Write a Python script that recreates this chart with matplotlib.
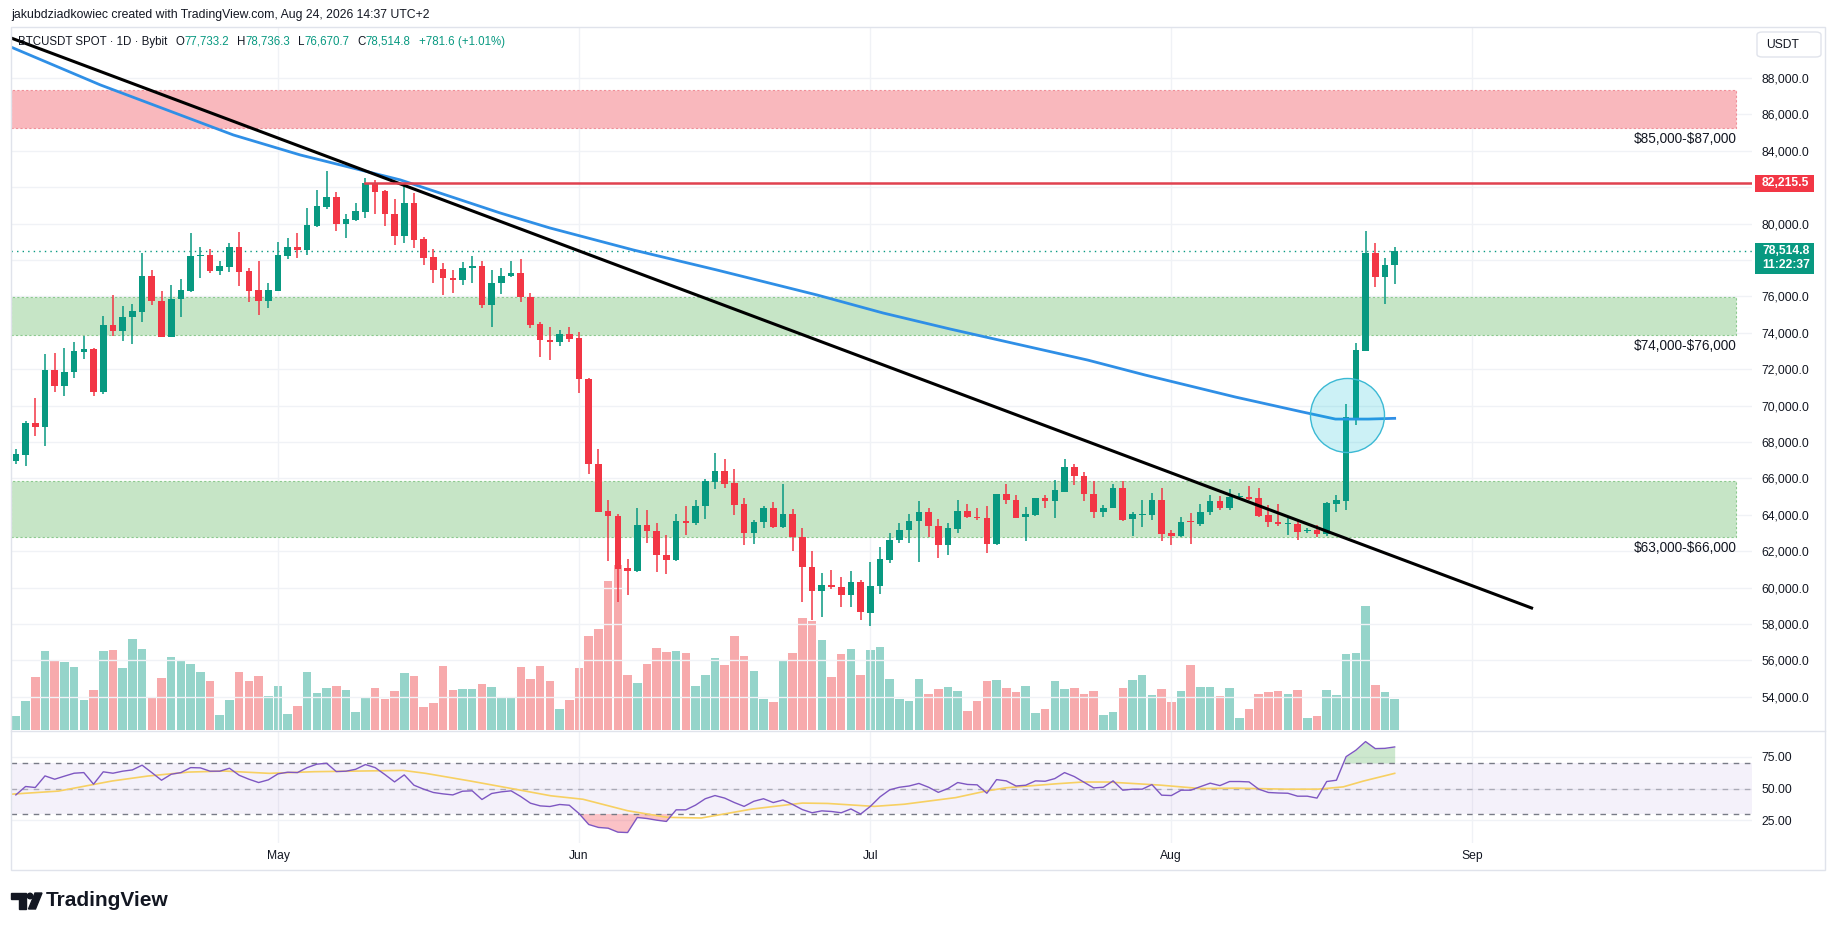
import matplotlib
matplotlib.use("Agg")
import matplotlib.pyplot as plt
import matplotlib.patches as mpatches
import numpy as np
import pandas as pd

plt.rcParams['font.family'] = ['Liberation Sans', 'DejaVu Sans']

W, H = 1835, 931

# ---------------- data ----------------
first_day = "2026-04-04"
ref_day = "2026-05-01"

opens = [66960, 67290, 69040, 68830, 71940, 71090, 71820, 72960, 73100, 70750, 74430, 74100, 74850, 75160,
         77130, 75730, 73790, 75850, 76300, 78200, 78270, 77390, 77640, 78710, 77390, 76360, 75770,
         76320, 78210, 78710, 78550, 79850, 80910, 81460, 80000, 80200, 80650, 82230, 81800, 80500, 79300,
         81110, 79160, 78150, 77520, 77010, 76890, 77560, 77680, 75520, 76760, 77110, 77310, 75950, 74490,
         73630, 73490, 73940,
         73710, 71460, 66810, 64220, 63960, 61090, 60890, 63430, 63130, 61810, 61500, 63680, 63570, 64480,
         65800, 66390, 65720, 64570, 62990, 63590, 64350, 63320, 64050, 62800, 61130, 59790, 60140, 60030,
         59570, 60300,
         58610, 60080, 61530, 62600, 63150, 63650, 64130, 63410, 62320, 63240, 64220, 63900, 63850, 62380,
         65120, 64820, 63870, 63980, 64900, 64750, 65280, 66610, 66150, 65170, 64130, 64350, 65450, 63760,
         64010, 63980, 64830,
         62980, 62830, 63650, 63520, 64150, 64740, 64350, 65000, 65000, 64940, 64000, 63630, 63500, 63520,
         63110, 63150, 62930, 64610, 64740, 69330, 73020, 78370, 77070, 77733.2]
highs = [67600, 69160, 70420, 72820, 72880, 73140, 73490, 73820, 73180, 74910, 76070, 75460, 75560, 78390,
         77450, 76300, 76620, 76950, 79470, 78690, 78610, 77940, 78960, 79550, 77540, 77960, 76740,
         78980, 79220, 79510, 80830, 81850, 82880, 81720, 80520, 81110, 82520, 82370, 81850, 81340, 82070,
         81660, 79260, 78610, 77840, 77470, 77880, 78230, 77940, 77430, 77560, 77960, 78080, 76170, 74590,
         74340, 74180, 74300,
         74040, 71510, 67600, 64820, 64070, 61590, 64350, 64290, 63570, 62910, 64030, 64460, 64840, 65950,
         67380, 67050, 66500, 64900, 63740, 64480, 64680, 65670, 64330, 63280, 62010, 60800, 60980, 60580,
         60890, 60400,
         61420, 62230, 63020, 63540, 64070, 64770, 64400, 63760, 63560, 64790, 64590, 64350, 64510, 65170,
         65670, 65080, 64440, 64950, 65080, 65890, 67050, 66810, 66370, 65870, 64530, 65670, 65840, 64160,
         64800, 65220, 65500,
         63180, 63870, 64110, 64610, 65090, 65040, 65440, 65220, 65560, 65480, 64560, 64570, 63930, 63650,
         63280, 63430, 64700, 65090, 70110, 73430, 79570, 78910, 78090, 78736.3]
lows = [66780, 66660, 68330, 67800, 70770, 70500, 71500, 72580, 70540, 70620, 73840, 73570, 73370, 74610,
        75500, 73750, 73750, 74890, 76230, 77010, 77310, 77170, 77350, 76560, 75710, 74970, 75360,
        76300, 78060, 78120, 78250, 79810, 80790, 79590, 79220, 80160, 80320, 80520, 79870, 78800, 78960,
        78650, 77700, 76760, 76070, 76210, 76600, 76760, 75360, 74340, 76130, 77070, 75710, 74260, 72660,
        72530, 73250, 73490,
        70680, 66250, 64130, 61440, 59200, 59570, 60850, 62470, 60840, 60760, 61450, 62910, 63460, 63760,
        65410, 65470, 63980, 62320, 62380, 63280, 63280, 63280, 61990, 59200, 58230, 58410, 59900, 58960,
        58960, 58240,
        57880, 59660, 61330, 62450, 62470, 61410, 62770, 61630, 61770, 63000, 63830, 63700, 61880, 62320,
        64590, 63810, 62580, 63960, 64350, 63850, 65250, 65630, 64750, 63810, 63870, 64350, 63680, 62820,
        63320, 63740, 62570,
        62350, 62800, 62410, 63410, 63980, 64260, 64260, 64850, 64810, 63870, 63330, 63410, 62910, 62590,
        63000, 62780, 62850, 64150, 64260, 68960, 73000, 76520, 75570, 76670.7]
closes = [67330, 69040, 68830, 71940, 71090, 71820, 73000, 73100, 70750, 74430, 74100, 74850, 75200, 77130,
          75730, 73790, 75850, 76360, 78230, 78260, 77390, 77680, 78710, 77350, 76320, 75770, 76360,
          78270, 78710, 78550, 79930, 80990, 81460, 80000, 80260, 80690, 82230, 81760, 80500, 79340, 81110,
          79120, 78100, 77470, 76990, 76890, 77560, 77680, 75520, 76760, 77130, 77310, 75950, 74430, 73630,
          73490, 73940, 73670,
          71460, 66780, 64160, 63920, 61040, 60890, 63430, 63100, 61770, 61500, 63680, 63570, 64510, 65850,
          66390, 65690, 64530, 62990, 63630, 64350, 63320, 64050, 62770, 61110, 59790, 60140, 60010, 59570,
          60300, 58650,
          60100, 61590, 62640, 63190, 63680, 64130, 63370, 62320, 63300, 64220, 63870, 63830, 62380, 65120,
          64790, 63850, 64020, 64900, 64750, 65340, 66610, 66150, 65140, 64130, 64380, 65450, 63720, 64030,
          64030, 64830, 62930,
          62830, 63630, 63610, 64180, 64740, 64350, 65000, 65040, 64870, 63960, 63590, 63480, 63520, 63060,
          63130, 62930, 64630, 64800, 69370, 73060, 78370, 77070, 77733.2, 78514.8]
volumes = [14, 29, 53, 79, 70, 68, 63, 30, 40, 79, 80, 62, 91, 81, 33, 52, 73, 70, 66, 58, 49, 15, 30, 58,
           49, 54, 34,
           44, 16, 24, 58, 37, 42, 44, 40, 18, 33, 42, 31, 39, 57, 54, 23, 27, 64, 40, 41, 41, 46, 43, 32,
           33, 63, 51, 64, 49, 21, 30,
           62, 94, 101, 149, 165, 55, 47, 66, 82, 78, 79, 77, 44, 55, 72, 65, 94, 74, 59, 31, 28, 69, 77,
           112, 109, 90, 53, 76, 81, 55,
           80, 83, 51, 31, 29, 51, 36, 41, 43, 39, 19, 29, 49, 50, 42, 38, 44, 17, 21, 49, 41, 42, 36, 39,
           15, 18, 42, 50, 55, 35, 41,
           28, 39, 65, 43, 43, 34, 42, 12, 21, 36, 38, 39, 36, 40, 12, 14, 40, 35, 76, 77, 124, 45, 38, 31]
rsi = [45.0, 51.6, 50.8, 59.9, 57.3, 59.7, 62.0, 62.5, 53.4, 63.1, 62.0, 63.6, 64.6, 68.3, 62.5, 56.5,
       61.2, 62.5, 66.4, 66.2, 63.6, 63.6, 65.9, 60.4, 57.3, 54.7, 56.8,
       61.5, 62.8, 62.5, 66.4, 69.1, 69.8, 63.3, 63.6, 65.1, 68.8, 66.4, 61.0, 55.2, 60.7, 52.6, 49.5,
       46.9, 45.8, 45.0, 47.9, 48.2, 41.4, 46.1, 47.4, 48.2, 43.7, 38.5, 36.4, 35.9, 37.5, 36.9,
       30.4, 21.8, 19.5, 18.9, 15.8, 15.5, 27.3, 26.5, 25.2, 24.2, 33.3, 33.3, 37.0, 42.0, 44.5, 42.5,
       39.0, 36.0, 40.0, 42.0, 39.0, 41.0, 37.5, 33.5, 31.0, 32.5, 32.0, 31.0, 34.0, 30.0,
       36.0, 43.5, 49.0, 51.0, 52.0, 54.0, 51.0, 47.0, 50.0, 54.7, 53.2, 52.9, 46.3, 57.0, 56.0, 52.0,
       52.6, 56.0, 55.7, 57.8, 62.5, 59.4, 55.0, 50.5, 51.0, 56.0, 48.7, 49.5, 49.5, 53.1, 44.8,
       44.5, 48.7, 48.7, 51.5, 54.2, 52.3, 55.5, 55.5, 55.2, 49.5, 46.9, 46.5, 46.3, 44.0, 44.0, 42.5,
       55.5, 56.5, 75.0, 80.0, 86.8, 81.3, 81.5, 82.6]

# indicator knots (day offset from May 1)
ma_day = [-27.5, -18.3, -4.6, 2.3, 12.6, 22.9, 28.0, 36.6, 45.2, 55.5, 62.3, 69.2, 83.4, 89.3, 98.6,
          105.5, 108.9, 112.3, 115.0]
ma_val = [89700, 87620, 84870, 83770, 82400, 80580, 79760, 78550, 77450, 76080, 75090, 74210, 72500,
          71680, 70470, 69650, 69260, 69260, 69300]
rsi_ma_day = [-27.6, -22.6, -17.1, -13.4, -9.2, -5.5, -0.9, 3.7, 8.3, 12.9, 15.2, 19.8, 24.4, 28.1, 31.4,
              36.0, 40.1, 43.6, 48.8, 54.0, 56.6, 61.4, 64.5, 69.8, 72.9, 75.0, 80.3, 82.9, 85.5, 90.8,
              95.0, 98.7, 103.9, 107.1, 109.7, 111.8, 115.0]
rsi_ma_val = [45.5, 48.0, 55.9, 59.8, 62.9, 63.7, 61.9, 63.2, 63.7, 64.2, 61.9, 55.9, 49.5, 44.3, 41.6,
              32.6, 27.4, 26.9, 33.9, 38.6, 38.3, 36.0, 37.7, 42.9, 48.0, 50.6, 53.8, 55.1, 55.1, 52.7,
              50.0, 50.3, 49.5, 49.5, 51.3, 55.9, 61.9]

trend_day = [-27.5, 129.1]
trend_val = [90200, 58880]
resist_day = 9
resist_val = 82215.5
last_val = 78514.8
circle_day, circle_val = 110.1, 69480

zone_end_day = 150.2
zones = [(85280, 87340, "$85,000-$87,000", "#f9b8bd", "#f08e98"),
         (73880, 75970, "$74,000-$76,000", "#c6e5c6", "#8cc98e"),
         (62800, 65880, "$63,000-$66,000", "#c6e5c6", "#8cc98e")]

price_levels = list(range(54000, 90000, 2000))
hidden_levels = [78000, 82000]
month_days = [0, 31, 61, 92, 123]
month_names = ["May", "Jun", "Jul", "Aug", "Sep"]

# ---------------- figure ----------------
dates = pd.date_range(first_day, periods=len(closes), freq="D")
x = np.array((dates - pd.Timestamp(ref_day)).days, dtype=float)
o, h, l, c = map(np.array, (opens, highs, lows, closes))
v = np.array(volumes, dtype=float)
r = np.array(rsi)

GREEN, RED, TEXT = "#089981", "#f23645", "#131722"
GRID = "#f0f2f6"

fig = plt.figure(figsize=(W / 100, H / 100), dpi=100, facecolor="white")


def fx(px):
    return px / W


def fy(py):
    return 1 - py / H


xlim = (-27.5, 151.8)
ylim = (52176, 90802)
rect_price = [fx(11), fy(730), (1752 - 11) / W, (730 - 27) / H]
ax_v = fig.add_axes(rect_price, label="vol")
ax = fig.add_axes(rect_price, label="price", sharex=ax_v)
ax_r = fig.add_axes([fx(11), fy(843), (1752 - 11) / W, (843 - 731) / H], sharex=ax_v)
ax.patch.set_alpha(0)
ax.set_axisbelow(True)
ax_r.set_axisbelow(True)

for a in (ax, ax_v, ax_r):
    for s in a.spines.values():
        s.set_visible(False)
ax_v.set_xlim(*xlim)
ax.set_ylim(*ylim)
px_per_price = (730 - 27) / (ylim[1] - ylim[0])

# volume
up = c >= o
ax_v.bar(x, v, width=0.88, color=np.where(up, "#95d4ca", "#f7aaac"), linewidth=0)
ax_v.set_ylim(0, v.max() * 703 / 165)
ax_v.set_yticks([])
ax_v.tick_params(bottom=False, labelbottom=False)

# grid
ax.set_yticks(price_levels)
ax.set_yticklabels(["" if p in hidden_levels else f"{p:,.1f}" for p in price_levels])
ax.yaxis.tick_right()
ax.tick_params(axis="y", length=0, pad=7, labelsize=8.7, labelcolor=TEXT)
ax.tick_params(axis="x", bottom=False, labelbottom=False)
ax.grid(axis="y", color=GRID, lw=1)
for d in month_days:
    ax.axvline(d, color=GRID, lw=1, zorder=0.5)
    ax_r.axvline(d, color=GRID, lw=1, zorder=0.5)

# zones
for lo, hi, lab, fc, ec in zones:
    ax.add_patch(mpatches.Rectangle((xlim[0], lo), zone_end_day - xlim[0], hi - lo, facecolor=fc,
                                    edgecolor=ec, lw=0.8, ls=(0, (2, 2)), zorder=1))
    ax.annotate(lab, xy=(zone_end_day, lo), xytext=(0, -11), textcoords="offset pixels",
                ha="right", va="center", fontsize=9.8, color=TEXT, zorder=6, parse_math=False)

# candles
col = np.where(up, GREEN, RED)
ax.vlines(x, l, h, colors=col, lw=1.1, zorder=3)
body_lo = np.minimum(o, c)
body_h = np.maximum(np.abs(c - o), 60)
ax.bar(x, body_h, bottom=body_lo, width=0.68, color=col, linewidth=0, zorder=3.2)

# lines
ax.plot(ma_day, ma_val, color="#2f8fe6", lw=2, zorder=4, solid_joinstyle="round")
ax.plot(trend_day, trend_val, color="black", lw=2.2, zorder=4)
ax.plot([resist_day, xlim[1]], [resist_val, resist_val], color="#e0414f", lw=1.8, zorder=4)
ax.axhline(last_val, color=GREEN, ls=(0, (1, 3)), lw=1, zorder=2)
ax.scatter([circle_day], [circle_val], s=2840, marker="o", facecolor=(0.0, 0.74, 0.83, 0.2),
           edgecolor="#3bb9d4", lw=1, zorder=5)

# axis price boxes
bt = ax.get_yaxis_transform()


def axis_box(price, top_off, height, color):
    y0 = price - (top_off + height) / px_per_price
    ax.add_patch(mpatches.Rectangle((1 + 3 / 1741, y0), 59 / 1741, height / px_per_price,
                                    transform=bt, facecolor=color, edgecolor="none", clip_on=False,
                                    zorder=7))


axis_box(resist_val, -8.5, 17, RED)
ax.text(1 + 10 / 1741, resist_val, f"{resist_val:,.1f}", transform=bt, ha="left", va="center",
        fontsize=8.7, color="white", fontweight="bold", zorder=8)
axis_box(last_val, -7.6, 31, GREEN)
ax.text(1 + 10 / 1741, last_val, f"{last_val:,.1f}", transform=bt, ha="left", va="center",
        fontsize=8.7, color="white", fontweight="bold", zorder=8)
ax.text(1 + 10 / 1741, last_val - 14.5 / px_per_price, "11:22:37", transform=bt, ha="left",
        va="center", fontsize=8.7, color="white", fontweight="bold", zorder=8)

# RSI pane
ax_r.set_ylim(7.3, 95.1)
ax_r.axhspan(30, 70, color="#7e57c2", alpha=0.08, lw=0)
ax_r.set_yticks([25, 50, 75])
ax_r.set_yticklabels(["25.00", "50.00", "75.00"])
ax_r.yaxis.tick_right()
ax_r.tick_params(axis="y", length=0, pad=7, labelsize=8.7, labelcolor=TEXT)
ax_r.grid(axis="y", color=GRID, lw=1)
ax_r.axhline(70, color="#787b86", ls=(0, (4, 4)), lw=1)
ax_r.axhline(50, color="#787b86", ls=(0, (4, 4)), lw=1, alpha=0.55)
ax_r.axhline(30, color="#787b86", ls=(0, (4, 4)), lw=1)
ax_r.fill_between(x, 70, r, where=r >= 70, interpolate=True, color="#4caf50", alpha=0.28, lw=0)
ax_r.fill_between(x, 30, r, where=r <= 30, interpolate=True, color="#f23645", alpha=0.3, lw=0)
ax_r.plot(rsi_ma_day, rsi_ma_val, color="#f7d062", lw=1.2)
ax_r.plot(x, r, color="#7e57c2", lw=1)
ax_r.set_xticks(month_days)
ax_r.set_xticklabels(month_names)
ax_r.tick_params(axis="x", length=0, pad=5, labelsize=8.7, labelcolor=TEXT)

# frame and separators
fig.add_artist(mpatches.Rectangle((fx(11), fy(870)), (1825 - 11) / W, (870 - 27) / H, fill=False,
                                  edgecolor="#e0e3eb", lw=1))
fig.add_artist(plt.Line2D([fx(11), fx(1825)], [fy(730.5), fy(730.5)], color="#e0e3eb", lw=1))

# USDT box
fig.add_artist(mpatches.FancyBboxPatch((fx(1757), fy(57)), 64 / W, 25 / H,
                                       boxstyle="round,pad=0,rounding_size=0.003",
                                       facecolor="white", edgecolor="#e0e3eb", lw=1))
fig.text(fx(1766), fy(44.5), "USDT", fontsize=8.7, color=TEXT, va="center", ha="left")

# header and legend
fig.text(fx(11), fy(15), "jakubdziadkowiec created with TradingView.com, Aug 24, 2026 14:37 UTC+2",
         fontsize=8.8, color=TEXT, va="center", ha="left")

renderer = fig.canvas.get_renderer()
runs = [("BTCUSDT SPOT · 1D · Bybit", TEXT, 8), ("O", TEXT, 0), ("77,733.2", GREEN, 8), ("H", TEXT, 0),
        ("78,736.3", GREEN, 8), ("L", TEXT, 0), ("76,670.7", GREEN, 8), ("C", TEXT, 0),
        ("78,514.8", GREEN, 8), ("+781.6 (+1.01%)", GREEN, 0)]
xpos = 18
for txt, colr, gap in runs:
    t = fig.text(fx(xpos), fy(42), txt, fontsize=8.3, color=colr, va="center", ha="left")
    xpos += t.get_window_extent(renderer).width + gap

# TradingView logo
logo_t = [(11, 893), (26, 893), (26, 909), (19, 909), (19, 898.5), (11, 898.5)]
fig.add_artist(mpatches.Polygon([(fx(a), fy(b)) for a, b in logo_t], closed=True, color=TEXT))
fig.add_artist(mpatches.Ellipse((fx(30), fy(896)), 5.5 / W, 5.5 / H, color=TEXT))
logo_s = [(35, 893), (42, 893), (35.5, 909), (28.5, 909)]
fig.add_artist(mpatches.Polygon([(fx(a), fy(b)) for a, b in logo_s], closed=True, color=TEXT))
fig.text(fx(46), fy(901), "TradingView", fontsize=15, fontweight="bold", color=TEXT, va="center",
         ha="left")

fig.savefig("out.png", dpi=100, facecolor="white")
